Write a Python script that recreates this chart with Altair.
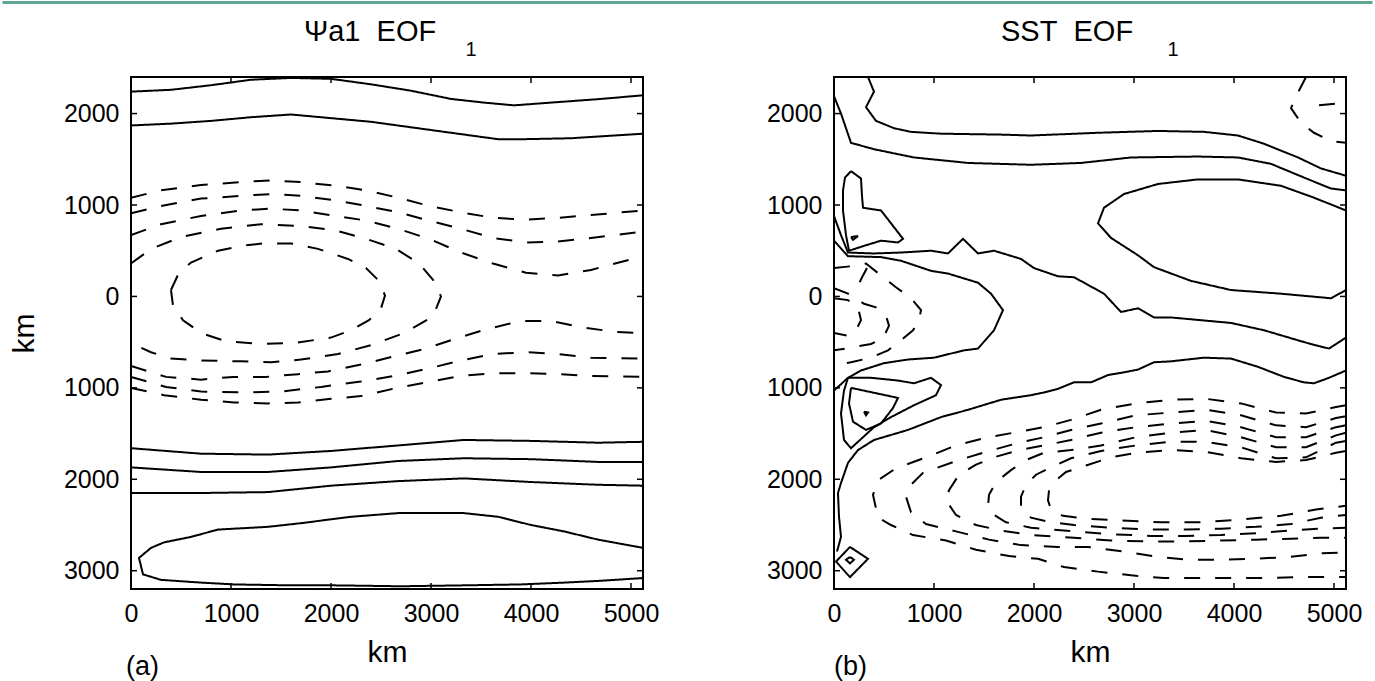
import altair as alt
import pandas as pd

X_TICKS = [0, 1000, 2000, 3000, 4000, 5000]
Y_TICKS = [-3000, -2000, -1000, 0, 1000, 2000]
X_DOMAIN = [0, 5120]
Y_DOMAIN = [-3200, 2400]

TITLE_A = "\u03a8a1\u00a0\u00a0EOF"
TITLE_B = "SST\u00a0\u00a0EOF"
SUBSCRIPT = "1"

# ---------------- panel (a) : solid contours ----------------
A_TOP1_X = [0, 400, 800, 1200, 1600, 2000, 2400, 2800, 3200, 3530, 3830, 4200, 4700, 5120]
A_TOP1_Y = [2240, 2260, 2310, 2370, 2390, 2380, 2320, 2250, 2160, 2120, 2090, 2120, 2160, 2200]
A_TOP2_X = [0, 400, 800, 1200, 1600, 2000, 2400, 2800, 3200, 3670, 3930, 4400, 5120]
A_TOP2_Y = [1870, 1890, 1920, 1960, 1990, 1950, 1910, 1850, 1790, 1720, 1720, 1730, 1780]
A_S_X = [0, 700, 1370, 2000, 2670, 3330, 4000, 4670, 5120]
A_S1_Y = [-1660, -1720, -1730, -1690, -1630, -1570, -1580, -1600, -1590]
A_S2_Y = [-1870, -1920, -1920, -1870, -1800, -1770, -1780, -1810, -1810]
A_S3_Y = [-2150, -2150, -2140, -2070, -2020, -1990, -2030, -2060, -2070]
A_S4_X = [5120, 4670, 4330, 4000, 3670, 3330, 3000, 2670, 2200, 1700, 1370, 870, 600, 330, 200, 80,
          120, 300, 700, 1030, 1600, 2030, 2700, 3330, 3900, 4330, 4700, 5120]
A_S4_Y = [-2750, -2660, -2570, -2500, -2410, -2370, -2370, -2370, -2410, -2480, -2520, -2550, -2630, -2690, -2750, -2860,
          -3040, -3100, -3130, -3150, -3160, -3160, -3170, -3160, -3150, -3130, -3110, -3080]

# ---------------- panel (a) : dashed contours ----------------
A_U_X = [0, 300, 700, 1100, 1400, 1700, 2050, 2350, 2670, 2980, 3300, 3620, 3950, 4270, 4600, 5120]
A_U1_Y = [1080, 1160, 1220, 1250, 1270, 1250, 1210, 1160, 1080, 990, 920, 860, 840, 860, 890, 940]
A_U2_Y = [910, 990, 1070, 1100, 1120, 1100, 1050, 990, 920, 830, 740, 640, 590, 600, 640, 710]
A_U3_Y = [670, 790, 880, 940, 960, 940, 880, 830, 740, 630, 480, 360, 260, 230, 290, 440]
A_L4_X = [0, 200, 500, 900, 1300, 1700, 2050, 2350, 2650, 2880, 3030, 3100, 3020, 2730, 2410, 2070, 1700,
          1400, 1100, 700, 400, 200, 0]
A_L4_Y = [360, 520, 650, 740, 790, 770, 720, 630, 520, 360, 170, 0, -220, -400, -530, -630, -690,
          -720, -710, -700, -680, -610, -510]
A_E_X = [400, 480, 600, 870, 1150, 1330, 1600, 1870, 2170, 2350, 2480, 2540, 2500, 2380, 2200, 2000, 1630,
         1300, 950, 700, 520, 420, 400]
A_E_Y = [70, 260, 370, 500, 560, 580, 580, 520, 410, 310, 170, 10, -130, -260, -370, -450, -510,
         -520, -490, -400, -260, -100, 70]
A_B3_X = [0, 350, 700, 1020, 1350, 1670, 1970, 2320, 2650, 2950, 3250, 3550, 3890, 4210, 4520, 4860, 5120]
A_B3_Y = [-760, -880, -910, -880, -880, -850, -820, -740, -650, -570, -460, -360, -270, -270, -340, -390, -400]
A_B2_X = [0, 350, 700, 1100, 1500, 1900, 2300, 2630, 2970, 3300, 3620, 3950, 4270, 4600, 5120]
A_B2_Y = [-880, -990, -1040, -1050, -1040, -990, -930, -870, -790, -700, -630, -610, -630, -670, -680]
A_B1_X = [0, 330, 700, 1030, 1370, 1670, 2000, 2300, 2660, 3000, 3300, 3620, 3950, 4270, 4600, 5120]
A_B1_Y = [-1000, -1080, -1130, -1160, -1170, -1160, -1120, -1090, -1000, -930, -870, -840, -840, -850, -870, -880]

# ---------------- panel (b) : solid contours ----------------
B_T1_X = [340, 400, 320, 420, 600, 770, 1070, 1670, 1970, 2640, 3240, 3700, 4040, 4300, 4640, 4870, 5120]
B_T1_Y = [2400, 2240, 2070, 1920, 1840, 1800, 1780, 1770, 1760, 1790, 1810, 1800, 1760, 1670, 1520, 1400, 1320]
B_T2_X = [0, 70, 170, 400, 800, 1340, 1970, 2470, 2970, 3640, 4040, 4370, 4700, 4970, 5120]
B_T2_Y = [2190, 2000, 1680, 1610, 1520, 1460, 1440, 1460, 1520, 1530, 1520, 1450, 1300, 1180, 1160]
B_T3_X = [5120, 4800, 4470, 4040, 3640, 3240, 2900, 2700, 2640, 2770, 3040, 3200, 3570, 3970, 4470, 4970, 5120]
B_T3_Y = [940, 1080, 1210, 1280, 1280, 1230, 1120, 970, 800, 640, 450, 320, 170, 70, 30, -20, 70]
B_T4_X = [0, 70, 140, 400, 670, 970, 1140, 1290, 1440, 1600, 1870, 2000, 2240, 2400, 2700, 2870, 3040,
          3200, 3370, 3970, 4300, 4640, 4800, 4950, 5120]
B_T4_Y = [880, 670, 480, 470, 480, 500, 470, 630, 470, 500, 410, 310, 220, 210, 30, -170, -130,
          -230, -230, -290, -370, -480, -530, -570, -450]
B_T5_X = [0, 140, 470, 670, 970, 1140, 1440, 1570, 1690, 1600, 1440, 1300, 1000, 740, 500, 270, 140, 0]
B_T5_Y = [610, 440, 430, 390, 280, 250, 150, 30, -150, -370, -570, -590, -670, -690, -730, -810, -890, -1030]
B_LA_X = [170, 270, 280, 290, 470, 570, 690, 640, 470, 320, 150, 120, 90, 90, 110, 170]
B_LA_Y = [1370, 1290, 1100, 970, 940, 800, 630, 590, 610, 560, 500, 670, 940, 1160, 1300, 1370]
B_DOT1_X = [170, 240, 190, 170]
B_DOT1_Y = [650, 660, 620, 650]
B_LB_X = [140, 370, 640, 800, 970, 1070, 1020, 800, 570, 400, 170, 100, 70, 100, 140]
B_LB_Y = [-890, -890, -920, -950, -890, -970, -1080, -1190, -1320, -1430, -1660, -1570, -1280, -1030, -890]
B_LC_X = [170, 640, 590, 470, 320, 190, 150, 170]
B_LC_Y = [-1000, -1110, -1220, -1390, -1460, -1370, -1170, -1000]
B_DOT2_X = [300, 340, 320, 300]
B_DOT2_Y = [-1260, -1270, -1300, -1260]
B_T6_X = [5120, 4950, 4800, 4700, 4500, 4240, 3970, 3700, 3370, 3200, 3040, 2900, 2740, 2570, 2400, 2240,
          2100, 1970, 1670, 1340, 1070, 740, 400, 240, 140, 70, 40, 50, 70, 30]
B_T6_Y = [-810, -890, -950, -940, -880, -770, -680, -670, -710, -720, -800, -830, -860, -940, -940, -1010,
          -1050, -1080, -1130, -1240, -1320, -1460, -1570, -1680, -1820, -2040, -2150, -2410, -2630, -2790]
B_DIA_X = [160, 340, 160, 20, 160]
B_DIA_Y = [-2740, -2870, -3070, -2900, -2740]
B_DIA2_X = [160, 200, 160, 120, 160]
B_DIA2_Y = [-2850, -2880, -2920, -2880, -2850]

# ---------------- panel (b) : dashed contours ----------------
B_D1_X = [4720, 4640, 4570, 4670, 4800, 4970, 5120]
B_D1_Y = [2400, 2230, 2060, 1900, 1790, 1700, 1680]
B_D2_X = [4850, 5120]
B_D2_Y = [2090, 2120]
B_DA_X = [0, 170, 320, 470, 620, 770, 870, 850, 790, 670, 540, 370, 170, 0]
B_DA_Y = [310, 330, 360, 230, 100, -20, -150, -260, -370, -480, -590, -670, -720, -750]
B_DB_X = [0, 140, 300, 420, 520, 550, 490, 370, 170, 0]
B_DB_Y = [90, 30, -80, -120, -210, -320, -460, -520, -560, -590]
B_DC_X = [0, 140, 240, 270, 220, 140, 0]
B_DC_Y = [-20, -40, -120, -260, -370, -430, -400]
B_DD_X = [330, 290, 250, 200]
B_DD_Y = [310, 230, 140, 40]
B_C1_X = [5120, 5020, 4720, 4420, 4070, 3720, 3370, 3020, 2670, 2370, 2100, 1850, 1540, 1220, 920, 620, 440, 390,
          440, 570, 790, 1120, 1420, 1750, 2040, 2300, 2640, 2970, 3300, 3640, 3970, 4300, 4640, 4970, 5120]
B_C1_Y = [-1190, -1210, -1280, -1270, -1170, -1120, -1130, -1170, -1240, -1350, -1430, -1480, -1540, -1630, -1760,
          -1880, -2010, -2170, -2420, -2500, -2610, -2670, -2770, -2840, -2870, -2960, -3010, -3050, -3080, -3080,
          -3080, -3080, -3070, -3070, -3070]
B_C2_X = [5120, 5020, 4720, 4420, 4070, 3720, 3370, 3020, 2670, 2370, 2100, 1850, 1520, 1220, 890, 770, 720, 770,
          920, 1220, 1550, 1870, 2240, 2540, 2900, 3240, 3540, 3870, 4200, 4540, 4870, 5120]
B_C2_Y = [-1310, -1330, -1430, -1410, -1300, -1240, -1270, -1300, -1390, -1460, -1540, -1600, -1700, -1800, -1930,
          -2060, -2190, -2360, -2490, -2570, -2660, -2720, -2740, -2740, -2790, -2850, -2880, -2880, -2870, -2850,
          -2810, -2800]
B_C3_X = [5120, 5020, 4720, 4420, 4070, 3720, 3370, 3020, 2670, 2370, 2100, 1850, 1600, 1420, 1250, 1150, 1120,
          1220, 1420, 1670, 1970, 2400, 2770, 3170, 3520, 3870, 4220, 4570, 4870, 5120]
B_C3_Y = [-1410, -1430, -1540, -1540, -1430, -1360, -1390, -1430, -1490, -1570, -1630, -1680, -1760, -1840, -1950,
          -2120, -2230, -2390, -2500, -2560, -2610, -2640, -2670, -2680, -2680, -2670, -2660, -2650, -2640, -2640]
B_C4_X = [5120, 5020, 4720, 4420, 4070, 3720, 3370, 3020, 2670, 2370, 2100, 1920, 1770, 1620, 1550, 1540, 1600,
          1720, 1970, 2400, 2770, 3170, 3520, 3870, 4220, 4570, 4870, 5120]
B_C4_Y = [-1490, -1520, -1650, -1650, -1540, -1460, -1490, -1540, -1630, -1680, -1710, -1790, -1900, -2030, -2170,
          -2300, -2390, -2470, -2530, -2570, -2600, -2620, -2620, -2610, -2590, -2560, -2540, -2530]
B_C5_X = [5120, 5020, 4720, 4420, 4070, 3720, 3370, 3020, 2670, 2370, 2170, 2020, 1920, 1870, 1870, 1970, 2170,
          2400, 2770, 3170, 3520, 3870, 4220, 4570, 4870, 5120]
B_C5_Y = [-1580, -1600, -1760, -1770, -1650, -1590, -1590, -1630, -1690, -1770, -1870, -1950, -2060, -2190, -2320,
          -2420, -2470, -2500, -2530, -2550, -2550, -2540, -2520, -2490, -2420, -2390]
B_C6_X = [5120, 5020, 4720, 4420, 4070, 3720, 3370, 3020, 2770, 2520, 2320, 2220, 2150, 2140, 2170, 2290, 2520,
          2870, 3270, 3670, 4070, 4470, 4820, 5120]
B_C6_Y = [-1690, -1710, -1790, -1810, -1770, -1700, -1680, -1710, -1760, -1850, -1920, -2010, -2120, -2230, -2330,
          -2400, -2430, -2450, -2470, -2470, -2440, -2400, -2330, -2290]


def build(contours):
    rows = []
    for cid, xs, ys, style in contours:
        for i, (xv, yv) in enumerate(zip(xs, ys)):
            rows.append({"cid": cid, "i": i, "x": xv, "y": yv, "style": style})
    return pd.DataFrame(rows)


DF_A = build([
    ("t1", A_TOP1_X, A_TOP1_Y, "solid"), ("t2", A_TOP2_X, A_TOP2_Y, "solid"),
    ("s1", A_S_X, A_S1_Y, "solid"), ("s2", A_S_X, A_S2_Y, "solid"), ("s3", A_S_X, A_S3_Y, "solid"),
    ("s4", A_S4_X, A_S4_Y, "solid"),
    ("u1", A_U_X, A_U1_Y, "dashed"), ("u2", A_U_X, A_U2_Y, "dashed"), ("u3", A_U_X, A_U3_Y, "dashed"),
    ("l4", A_L4_X, A_L4_Y, "dashed"), ("e", A_E_X, A_E_Y, "dashed"),
    ("b3", A_B3_X, A_B3_Y, "dashed"), ("b2", A_B2_X, A_B2_Y, "dashed"), ("b1", A_B1_X, A_B1_Y, "dashed"),
])

DF_B = build([
    ("t1", B_T1_X, B_T1_Y, "solid"), ("t2", B_T2_X, B_T2_Y, "solid"), ("t3", B_T3_X, B_T3_Y, "solid"),
    ("t4", B_T4_X, B_T4_Y, "solid"), ("t5", B_T5_X, B_T5_Y, "solid"), ("la", B_LA_X, B_LA_Y, "solid"),
    ("d1s", B_DOT1_X, B_DOT1_Y, "solid"), ("lb", B_LB_X, B_LB_Y, "solid"), ("lc", B_LC_X, B_LC_Y, "solid"),
    ("d2s", B_DOT2_X, B_DOT2_Y, "solid"), ("t6", B_T6_X, B_T6_Y, "solid"),
    ("dia", B_DIA_X, B_DIA_Y, "solid"), ("dia2", B_DIA2_X, B_DIA2_Y, "solid"),
    ("d1", B_D1_X, B_D1_Y, "dashed"), ("d2", B_D2_X, B_D2_Y, "dashed"),
    ("da", B_DA_X, B_DA_Y, "dashed"), ("db", B_DB_X, B_DB_Y, "dashed"), ("dc", B_DC_X, B_DC_Y, "dashed"),
    ("dd", B_DD_X, B_DD_Y, "dashed"),
    ("c1", B_C1_X, B_C1_Y, "dashed"), ("c2", B_C2_X, B_C2_Y, "dashed"), ("c3", B_C3_X, B_C3_Y, "dashed"),
    ("c4", B_C4_X, B_C4_Y, "dashed"), ("c5", B_C5_X, B_C5_Y, "dashed"), ("c6", B_C6_X, B_C6_Y, "dashed"),
])

W = 512
H = 512
FONT = "Liberation Sans"


def panel(df, title_text, title_dx, sub_dx, tag, with_ytitle, extra=None):
    xs = alt.Scale(domain=X_DOMAIN, nice=False, zero=False)
    ys = alt.Scale(domain=Y_DOMAIN, nice=False, zero=False)
    xaxis = alt.Axis(values=X_TICKS, ticks=False, tickSize=0, domain=False, grid=False,
                     labelFontSize=25, labelPadding=12, labelFlush=False, labelOverlap=False,
                     format="d", title="km", titleFontSize=30, titleY=72,
                     titleBaseline="alphabetic", titleFontWeight="normal")
    if with_ytitle:
        yaxis = alt.Axis(values=Y_TICKS, ticks=False, tickSize=0, domain=False, grid=False,
                         labelFontSize=25, labelPadding=12, labelFlush=False, labelOverlap=False,
                         labelExpr="format(abs(datum.value), 'd')", title="km", titleFontSize=30,
                         titleX=-107, titleY=256, titleAngle=270, titleBaseline="middle",
                         titleAlign="center", titleFontWeight="normal")
    else:
        yaxis = alt.Axis(values=Y_TICKS, ticks=False, tickSize=0, domain=False, grid=False,
                         labelFontSize=25, labelPadding=12, labelFlush=False, labelOverlap=False,
                         labelExpr="format(abs(datum.value), 'd')", title="")
    lines = alt.Chart(df).mark_line(color="black", strokeWidth=2, clip=True).encode(
        x=alt.X("x:Q", scale=xs, axis=xaxis),
        y=alt.Y("y:Q", scale=ys, axis=yaxis),
        detail="cid:N",
        order=alt.Order("i:Q"),
        strokeDash=alt.StrokeDash("style:N", scale=alt.Scale(domain=["solid", "dashed"],
                                                             range=[[1, 0], [16, 15]]), legend=None),
    )
    tx = pd.DataFrame({"x": X_TICKS})
    ty = pd.DataFrame({"y": Y_TICKS})
    tb = alt.Chart(tx).mark_rule(color="black", strokeWidth=1.5).encode(
        x=alt.X("x:Q", scale=xs, axis=xaxis), y=alt.value(H), y2=alt.value(H - 6))
    tt = alt.Chart(tx).mark_rule(color="black", strokeWidth=1.5).encode(
        x=alt.X("x:Q", scale=xs, axis=xaxis), y=alt.value(0), y2=alt.value(6))
    tl = alt.Chart(ty).mark_rule(color="black", strokeWidth=1.5).encode(
        y=alt.Y("y:Q", scale=ys, axis=yaxis), x=alt.value(0), x2=alt.value(6))
    tr = alt.Chart(ty).mark_rule(color="black", strokeWidth=1.5).encode(
        y=alt.Y("y:Q", scale=ys, axis=yaxis), x=alt.value(W), x2=alt.value(W - 6))
    title = alt.Chart(pd.DataFrame({"t": [title_text]})).mark_text(
        align="left", baseline="alphabetic", fontSize=29, font=FONT, color="black").encode(
        text="t:N", x=alt.value(title_dx), y=alt.value(-36))
    sub = alt.Chart(pd.DataFrame({"t": [SUBSCRIPT]})).mark_text(
        align="center", baseline="alphabetic", fontSize=20, font=FONT, color="black").encode(
        text="t:N", x=alt.value(sub_dx), y=alt.value(-21))
    lab = alt.Chart(pd.DataFrame({"t": [tag]})).mark_text(
        align="left", baseline="alphabetic", fontSize=27, font=FONT, color="black").encode(
        text="t:N", x=alt.value(-5 if tag == "(a)" else 0), y=alt.value(598))
    layers = [lines, tb, tt, tl, tr, title, sub, lab]
    if extra is not None:
        layers.append(extra)
    return alt.layer(*layers).properties(width=W, height=H)


top_bar = alt.Chart(pd.DataFrame({"t": [0]})).mark_rule(color="#5fa898", strokeWidth=3).encode(
    x=alt.value(-128.5), x2=alt.value(1241.5), y=alt.value(-74.5))

left = panel(DF_A, TITLE_A, 173, 340, "(a)", True, extra=top_bar)
right = panel(DF_B, TITLE_B, 167, 339, "(b)", False)

chart = alt.hconcat(left, right, spacing=191, bounds="flush").properties(
    padding={"left": 0, "top": 0, "right": 0, "bottom": 0}
).configure_view(stroke="black", strokeWidth=2).configure_axis(
    labelFont=FONT, titleFont=FONT, labelColor="black", titleColor="black"
)

chart.save("out.html", embed_options={"renderer": "svg", "actions": False})
